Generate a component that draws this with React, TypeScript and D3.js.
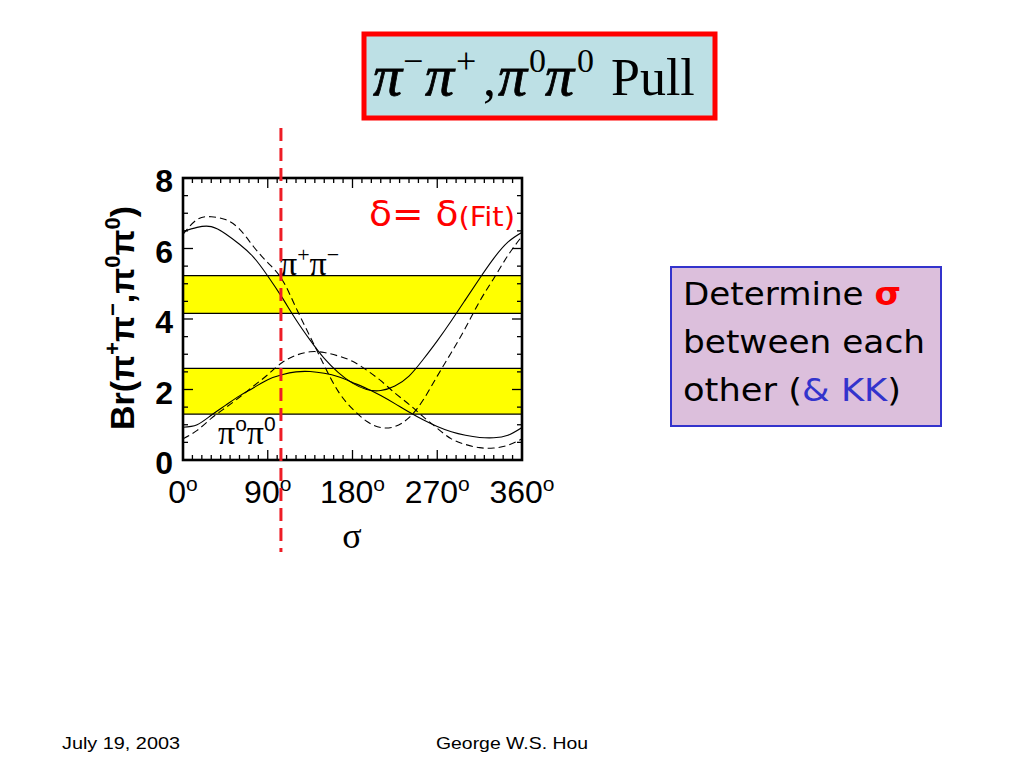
import React from 'react';
import * as d3 from 'd3';

// sigma grid (degrees) and curve values
const SIGMA = [0, 15, 30, 45, 60, 75, 90, 105, 120, 135, 150, 165, 180, 195, 210, 225, 240, 255, 270, 285, 300, 315, 330, 345, 360];
const PIPI_SOLID = [6.48, 6.6, 6.62, 6.42, 6.12, 5.75, 5.22, 4.62, 3.98, 3.4, 2.88, 2.48, 2.18, 2.0, 1.97, 2.1, 2.38, 2.85, 3.38, 3.95, 4.55, 5.15, 5.72, 6.18, 6.46];
const PIPI_DASH = [6.4, 6.82, 6.9, 6.82, 6.55, 6.05, 5.6, 5.13, 4.32, 3.5, 2.68, 1.94, 1.45, 1.1, 0.92, 0.95, 1.2, 1.7, 2.38, 3.05, 3.75, 4.5, 5.15, 5.8, 6.35];
const PI0PI0_SOLID = [0.93, 1.0, 1.27, 1.55, 1.82, 2.05, 2.28, 2.42, 2.5, 2.51, 2.46, 2.36, 2.2, 2.03, 1.83, 1.6, 1.36, 1.14, 0.95, 0.8, 0.7, 0.64, 0.63, 0.7, 0.92];
const PI0PI0_DASH = [0.6, 0.84, 1.18, 1.48, 1.78, 2.1, 2.42, 2.76, 2.97, 3.07, 3.05, 2.95, 2.8, 2.55, 2.25, 1.9, 1.58, 1.23, 0.9, 0.6, 0.44, 0.35, 0.34, 0.42, 0.6];

const BAND_LOW = [4.16, 1.3];
const BAND_HIGH = [5.23, 2.6];
const Y_TICKS = [0, 2, 4, 6, 8];
const Y_TICK_LABELS = ['0', '2', '4', '6', '8'];
const X_TICKS = [0, 90, 180, 270, 360];
const X_TICK_LABELS = ['0', '90', '180', '270', '360'];
const FIT_SIGMA = 104;

const SANS = 'Liberation Sans, Arial, sans-serif';
const SERIF = 'Liberation Serif, Times New Roman, serif';
const TAHOMA = 'DejaVu Sans, Verdana, sans-serif';

export default function App() {
  const x = d3.scaleLinear().domain([0, 360]).range([183, 522]);
  const y = d3.scaleLinear().domain([0, 8]).range([460, 178]);
  const line = d3
    .line<number>()
    .x((_, i) => x(SIGMA[i]))
    .y((d) => y(d))
    .curve(d3.curveNatural);

  const xMinor = d3.range(0, 361, 10);
  const yMinor = d3.range(0, 8.01, 0.5);
  const [x0, x1] = x.range();
  const [yb, yt] = y.range();

  return (
    <svg width={1024} height={768} style={{ position: 'absolute', left: 0, top: 0 }}>
      <rect x={0} y={0} width={1024} height={768} fill="#ffffff" />

      {/* Title box */}
      <rect x={364} y={34} width={351} height={84} fill="#bde0e5" stroke="#ff0000" strokeWidth={5} />
      <text y={95} fontFamily={SERIF} fontSize={52} fill="#000">
        <tspan x={373} fontStyle="italic" fontSize={58} stroke="#000" strokeWidth={0.8}>π</tspan>
        <tspan x={403} fontSize={36} dy={-22}>−</tspan>
        <tspan x={425} fontStyle="italic" fontSize={58} stroke="#000" strokeWidth={0.8} dy={22}>π</tspan>
        <tspan x={456} fontSize={36} dy={-22}>+</tspan>
        <tspan x={483} dy={22}>,</tspan>
        <tspan x={498} fontStyle="italic" fontSize={58} stroke="#000" strokeWidth={0.8}>π</tspan>
        <tspan x={529} fontSize={34} dy={-23}>0</tspan>
        <tspan x={545} fontStyle="italic" fontSize={58} stroke="#000" strokeWidth={0.8} dy={23}>π</tspan>
        <tspan x={577} fontSize={34} dy={-23}>0</tspan>
        <tspan x={611} dy={23}>Pull</tspan>
      </text>

      {/* Plot */}
      <defs>
        <clipPath id="plotclip">
          <rect x={x0} y={yt} width={x1 - x0} height={yb - yt} />
        </clipPath>
      </defs>

      {BAND_LOW.map((lo, i) => (
        <g key={'band' + i}>
          <rect x={x0} y={y(BAND_HIGH[i])} width={x1 - x0} height={y(lo) - y(BAND_HIGH[i])} fill="#ffff00" />
          <line x1={x0} x2={x1} y1={y(BAND_HIGH[i])} y2={y(BAND_HIGH[i])} stroke="#000" strokeWidth={1.2} />
          <line x1={x0} x2={x1} y1={y(lo)} y2={y(lo)} stroke="#000" strokeWidth={1.2} />
        </g>
      ))}

      <g clipPath="url(#plotclip)" fill="none" stroke="#000" strokeWidth={1.1}>
        <path d={line(PIPI_SOLID) || ''} />
        <path d={line(PI0PI0_SOLID) || ''} />
        <path d={line(PIPI_DASH) || ''} strokeDasharray="7,4" />
        <path d={line(PI0PI0_DASH) || ''} strokeDasharray="7,4" />
      </g>

      {/* ticks inside frame */}
      <g stroke="#000" strokeWidth={1.3}>
        {xMinor.map((v) => {
          const len = v % 90 === 0 ? 10 : 5;
          return (
            <g key={'xt' + v}>
              <line x1={x(v)} x2={x(v)} y1={yb} y2={yb - len} />
              <line x1={x(v)} x2={x(v)} y1={yt} y2={yt + len} />
            </g>
          );
        })}
        {yMinor.map((v) => {
          const len = v % 2 === 0 ? 10 : 5;
          return (
            <g key={'yt' + v}>
              <line x1={x0} x2={x0 + len} y1={y(v)} y2={y(v)} />
              <line x1={x1} x2={x1 - len} y1={y(v)} y2={y(v)} />
            </g>
          );
        })}
      </g>
      <rect x={x0} y={yt} width={x1 - x0} height={yb - yt} fill="none" stroke="#000" strokeWidth={2.6} />

      {/* y tick labels */}
      {Y_TICKS.map((v, i) => (
        <text key={'yl' + v} x={173} y={y(v) + 14} textAnchor="end" fontFamily={SANS} fontWeight="bold" fontSize={32} fill="#000">
          {Y_TICK_LABELS[i]}
        </text>
      ))}

      {/* x tick labels */}
      {X_TICKS.map((v, i) => (
        <text key={'xl' + v} x={x(v)} y={503} textAnchor="middle" fontFamily={SANS} fontSize={32} fill="#000">
          {X_TICK_LABELS[i]}
          <tspan fontSize={21} dy={-12}>o</tspan>
        </text>
      ))}

      {/* x axis title */}
      <text x={352} y={548} textAnchor="middle" fontFamily={SERIF} fontSize={36} fill="#000">σ</text>

      {/* y axis title */}
      <text transform="translate(134,318) rotate(-90)" textAnchor="middle" fontFamily={SANS} fontWeight="bold" fontSize={34} fill="#000">
        Br(π<tspan fontSize={22} dy={-14}>+</tspan><tspan dy={14}>π</tspan><tspan fontSize={22} dy={-14}>−</tspan><tspan dy={14}>,π</tspan><tspan fontSize={22} dy={-14}>0</tspan><tspan dy={14}>π</tspan><tspan fontSize={22} dy={-14}>0</tspan><tspan dy={14}>)</tspan>
      </text>

      {/* curve labels */}
      <text x={280} y={275} fontFamily={SERIF} fontSize={34} fill="#000">
        π<tspan fontSize={22} dy={-13}>+</tspan><tspan dy={13}>π</tspan><tspan fontSize={22} dy={-13}>−</tspan>
      </text>
      <text x={218} y={444} fontFamily={SERIF} fontSize={34} fill="#000">
        π<tspan fontFamily={SANS} fontSize={21} dy={-13}>o</tspan><tspan dy={13}>π</tspan><tspan fontFamily={SANS} fontSize={21} dy={-13}>0</tspan>
      </text>

      {/* delta = delta(Fit) */}
      <text x={369} y={226} fontFamily={TAHOMA} fontSize={35} fill="#ff0000" textLength={146} lengthAdjust="spacingAndGlyphs">
        δ= δ<tspan fontSize={27}>(Fit)</tspan>
      </text>

      {/* fitted sigma line */}
      <line x1={x(FIT_SIGMA)} x2={x(FIT_SIGMA)} y1={128} y2={552} stroke="#ee1c25" strokeWidth={3} strokeDasharray="13,7" />

      {/* right note box */}
      <rect x={671} y={267} width={270} height={159} fill="#dcbfdc" stroke="#3333cc" strokeWidth={2} />
      <g fontFamily={TAHOMA} fontSize={32} fill="#000">
        <text x={683} y={305} textLength={218} lengthAdjust="spacingAndGlyphs">
          Determine <tspan fill="#ff0000" fontWeight="bold">σ</tspan>
        </text>
        <text x={683} y={353} textLength={242} lengthAdjust="spacingAndGlyphs">between each</text>
        <text x={683} y={401} textLength={218} lengthAdjust="spacingAndGlyphs">
          other (<tspan fill="#3333cc">&amp; KK</tspan>)
        </text>
      </g>

      {/* footer */}
      <text x={62} y={749} fontFamily={SANS} fontSize={17} fill="#000" textLength={118} lengthAdjust="spacingAndGlyphs">July 19, 2003</text>
      <text x={436} y={749} fontFamily={SANS} fontSize={17} fill="#000" textLength={152} lengthAdjust="spacingAndGlyphs">George W.S. Hou</text>
    </svg>
  );
}
